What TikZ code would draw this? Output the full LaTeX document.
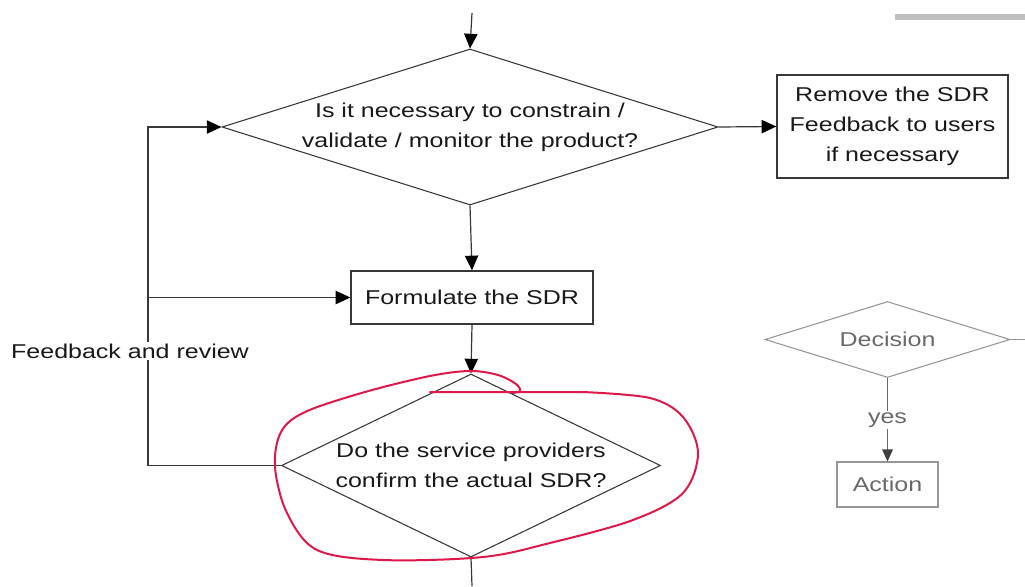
\documentclass[tikz,border=0pt]{standalone}
\usepackage{fontspec}
\setmainfont{Liberation Sans}[FakeStretch=1.25]
\usepackage{tikz}
\usetikzlibrary{shapes.geometric}
\usetikzlibrary{arrows.meta}
\usetikzlibrary{calc}
\definecolor{lineGray}{RGB}{55,55,55}
\definecolor{softGray}{RGB}{150,150,150}
\definecolor{textGray}{RGB}{105,105,105}
\definecolor{markRed}{RGB}{222,24,72}
\newcommand{\flowfont}{\fontsize{15pt}{22.5pt}\selectfont}

\begin{document}
\begin{tikzpicture}[x=0.75pt,y=0.75pt,yscale=-1,xscale=1,
  flow/.style={draw=lineGray,line width=0.9pt,-{Triangle[length=11pt,width=10pt,color=black]}},
  decide/.style={draw=lineGray,line width=0.8pt,shape=diamond,inner sep=0pt},
  stepbox/.style={draw=lineGray,line width=1pt,align=center,font=\flowfont,text=black!90,inner sep=0pt},
  quest/.style={align=center,font=\flowfont,text=black!90},
  legend/.style={draw=softGray,line width=0.8pt,align=center,font=\flowfont,text=textGray,inner sep=0pt}]
  \useasboundingbox (0,0) rectangle (1025,586);

  % Nodes
  \coordinate (start) at (472,13);
  \node [decide,minimum width=372pt,minimum height=117pt,
    label={[quest]center:Is it necessary to constrain /\\validate / monitor the product?}] (q1) at (470,127) {};
  \node [stepbox,minimum width=173.25pt,minimum height=77.25pt] (remove) at (892.5,126.5) {Remove the SDR\\Feedback to users\\if necessary};
  \node [stepbox,minimum width=181.5pt,minimum height=39.75pt] (formulate) at (472,297.5) {Formulate the SDR};
  \node [decide,minimum width=284.25pt,minimum height=137.25pt,
    label={[quest]center:Do the service providers\\confirm the actual SDR?}] (q2) at (471,465.5) {};
  \coordinate (finish) at (472,586);
  \coordinate (loop) at (148,0);

  % Straight Lines
  \draw [flow] (start) -- (q1.north);
  \draw [flow] (q1.east) -- (remove.west);
  \draw [flow] (q1.south) -- (formulate.north);
  \draw [flow] (formulate.south) -- (q2.north);
  \draw [draw=lineGray,line width=0.9pt] (q2.south) -- (finish);
  \draw [flow] (q2.west) -- (q2.west -| loop) |- (q1.west);
  \draw [flow] (formulate.west -| loop) -- (formulate.west);

  % Text Node
  \node [font=\flowfont,text=black!90,fill=white,inner sep=1pt] (review) at (130,351) {Feedback and review};

  % Legend
  \node [legend,shape=diamond,minimum width=183.75pt,minimum height=57pt] (decision) at (887.5,339.5) {};
  \node [font=\flowfont,text=textGray] at (decision.center) {Decision};
  \coordinate (decout) at (1025,339.5);
  \draw [draw=softGray,line width=0.8pt] (decision.east) -- (decout);
  \node [legend,minimum width=75.75pt,minimum height=33.75pt] (action) at (887.5,484.5) {Action};
  \draw [draw=textGray,line width=0.8pt,-{Triangle[length=9pt,width=8pt,color=black!75]}] (decision.south) -- (action.north)
    node [pos=0.5,fill=white,font=\flowfont,text=textGray,inner sep=1pt] (yes) {yes};
  \draw [draw=black!25,line width=4pt] (895,17) -- (1025,17);

  % Red mark
  \draw [markRed,line width=1.5pt,line cap=round] (430,392) -- (583,392)
    -- plot[smooth,tension=0.55] coordinates {(583,392) (650,398) (683,417) (698,453) (683,493) (633,520)
      (550,543) (483,557) (383,560) (317,550) (287,513) (275,467) (281,432) (305,412) (365,392)
      (430,376) (470,371) (498,375) (516,384) (520,391) (512,393)};
\end{tikzpicture}
\end{document}
